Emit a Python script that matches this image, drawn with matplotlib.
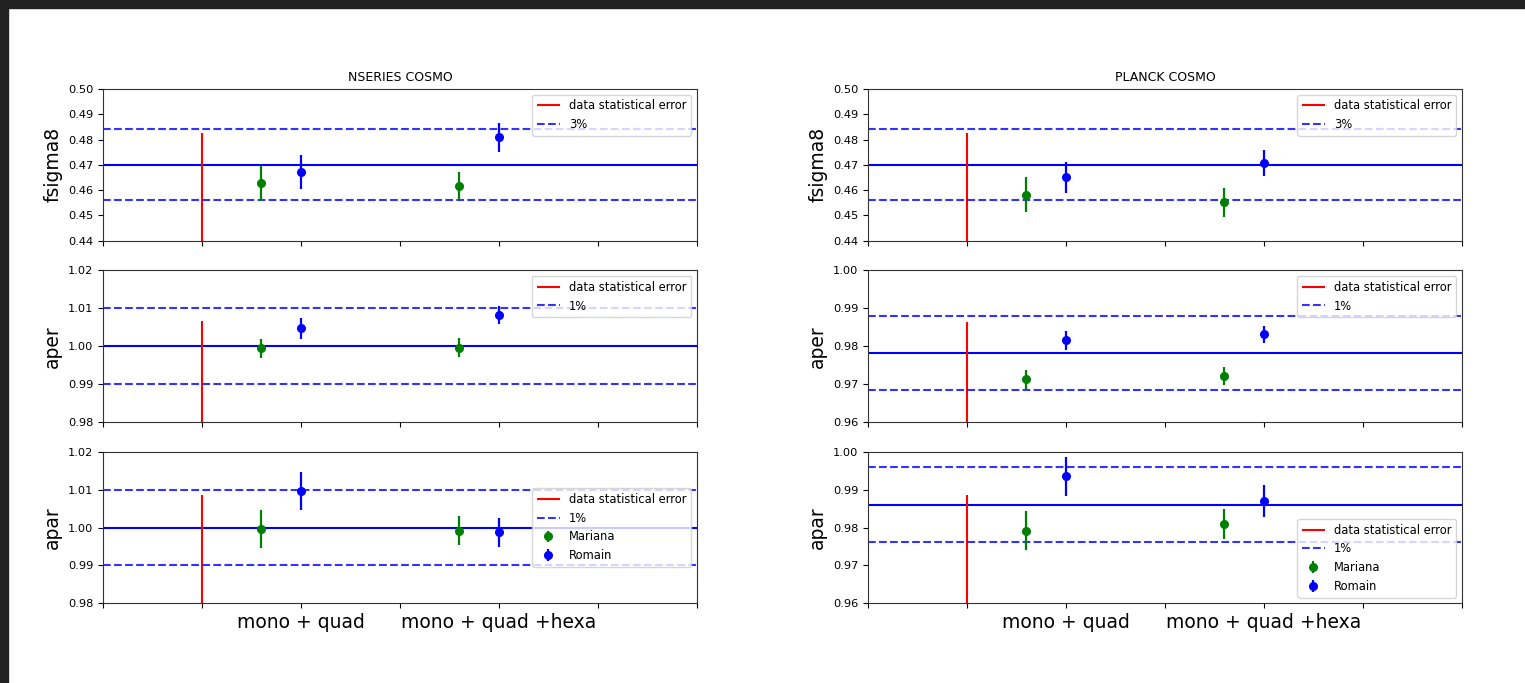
import matplotlib
matplotlib.use("Agg")
import matplotlib.pyplot as plt
from matplotlib.ticker import MultipleLocator, FormatStrFormatter
import numpy as np

# layout of the sample: red data error at 1, Mariana at 1.6/3.6, Romain at 2/4
cases = ["", "", "mono + quad", "", "mono + quad +hexa", "", ""]
x_data = 1
x_mariana = [1.6, 3.6]
x_romain = [2, 4]

params = ["fsigma8", "aper", "apar"]
cosmos = ["NSERIES COSMO", "PLANCK COSMO"]
pct = [0.03, 0.01, 0.01]
pct_labels = ["3%", "1%", "1%"]

# [cosmo][param]
ref_val = [[0.470, 1.000, 1.000], [0.470, 0.9782, 0.986]]
ylims = [[(0.44, 0.50), (0.98, 1.02), (0.98, 1.02)],
         [(0.44, 0.50), (0.96, 1.00), (0.96, 1.00)]]
data_err_top = [[0.4827, 1.0066, 1.0085], [0.4827, 0.9864, 0.9885]]

mariana_val = [[[0.4626, 0.4617], [0.9994, 0.9996], [0.9996, 0.9992]],
               [[0.4582, 0.4551], [0.9712, 0.9721], [0.9792, 0.9810]]]
mariana_err = [[[0.0070, 0.0056], [0.0025, 0.0025], [0.0050, 0.0039]],
               [[0.0070, 0.0058], [0.0026, 0.0024], [0.0052, 0.0039]]]
romain_val = [[[0.4672, 0.4808], [1.0047, 1.0083], [1.0097, 0.9987]],
              [[0.4650, 0.4707], [0.9815, 0.9831], [0.9935, 0.9869]]]
romain_err = [[[0.0068, 0.0056], [0.0028, 0.0024], [0.0050, 0.0038]],
              [[0.0060, 0.0052], [0.0026, 0.0022], [0.0051, 0.0042]]]

legend_loc = [["upper right", "upper right", "center right"],
              ["upper right", "upper right", "lower right"]]

fig, axes = plt.subplots(3, 2, figsize=(15.25, 6.83), dpi=100)
plt.subplots_adjust(left=0.0675, right=0.9587, bottom=0.1167, top=0.8697,
                    hspace=0.197, wspace=0.288)

for c in range(2):
    for p in range(3):
        ax = axes[p, c]
        lo, hi = ylims[c][p]
        ref = ref_val[c][p]
        ax.axhline(ref, color="b", lw=1.5)
        ax.vlines(x_data, lo, data_err_top[c][p], color="r", lw=1.5,
                  label="data statistical error")
        ax.axhline(ref * (1 + pct[p]), color="b", ls="--", lw=1.5, alpha=0.8,
                   label=pct_labels[p])
        ax.axhline(ref * (1 - pct[p]), color="b", ls="--", lw=1.5, alpha=0.8)
        lab_m = "Mariana" if p == 2 else None
        lab_r = "Romain" if p == 2 else None
        ax.errorbar(x_mariana, mariana_val[c][p], yerr=mariana_err[c][p],
                    fmt="o", color="g", ms=5.5, elinewidth=1.6, label=lab_m)
        ax.errorbar(x_romain, romain_val[c][p], yerr=romain_err[c][p],
                    fmt="o", color="b", ms=5.5, elinewidth=1.6, label=lab_r)
        ax.set_xlim(0, len(cases) - 1)
        ax.set_ylim(lo, hi)
        ax.set_xticks(range(len(cases)))
        if p == 2:
            ax.set_xticklabels(cases, fontsize=13.5)
        else:
            ax.set_xticklabels([])
        ax.yaxis.set_major_locator(MultipleLocator(0.01))
        ax.yaxis.set_major_formatter(FormatStrFormatter("%.2f"))
        ax.tick_params(axis="y", labelsize=8.2)
        for s in ax.spines.values():
            s.set_color("#333333")
        ax.set_ylabel(params[p], fontsize=13.5)
        ax.legend(loc=legend_loc[c][p], fontsize=8.3)
    axes[0, c].set_title(cosmos[c], fontsize=9)

# dark notebook frame
fig.patches.append(plt.Rectangle((0, 1 - 8 / 683), 1, 8 / 683, transform=fig.transFigure,
                                 color="#222222", zorder=10))
fig.patches.append(plt.Rectangle((0, 0), 8 / 1525, 1, transform=fig.transFigure,
                                 color="#222222", zorder=10))

fig.savefig("out.png", dpi=100)
